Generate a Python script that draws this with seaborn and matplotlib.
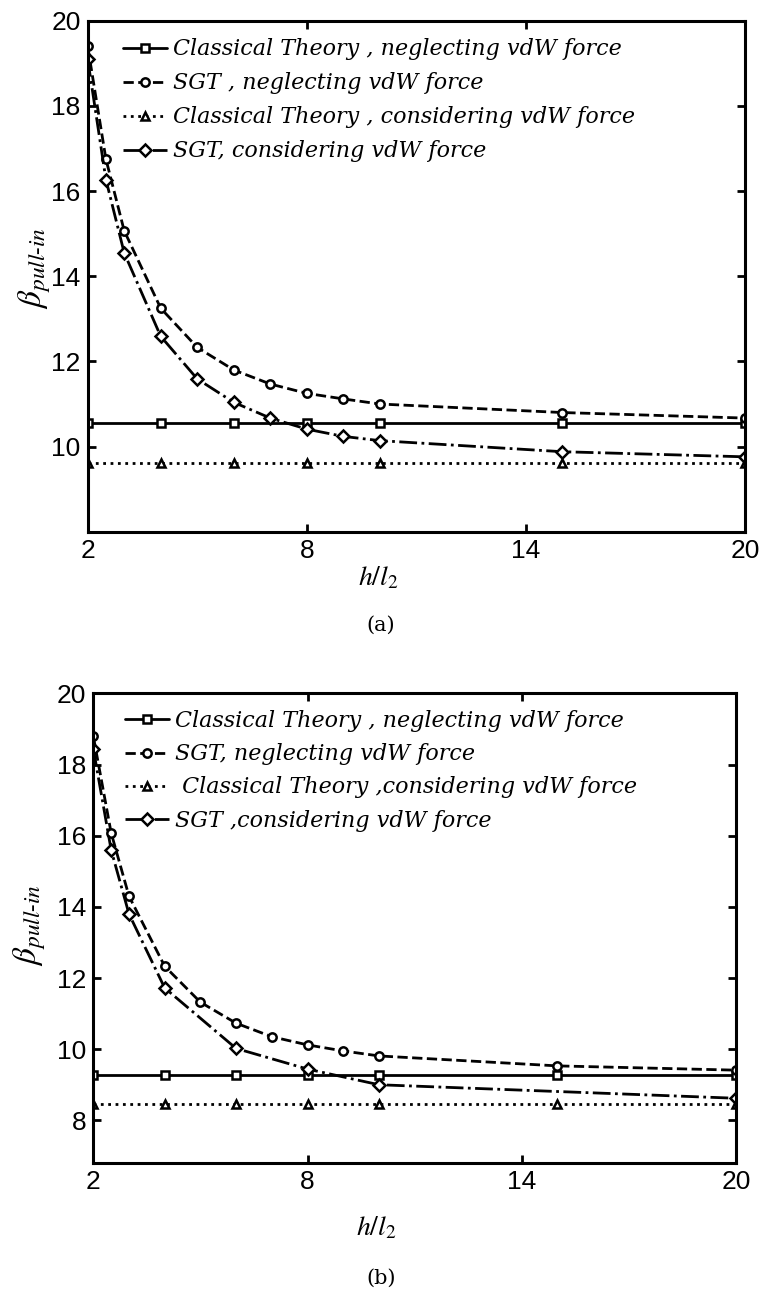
import numpy as np
import pandas as pd
import matplotlib
matplotlib.use("Agg")
import matplotlib.pyplot as plt
import seaborn as sns

sns.set_style("ticks")
plt.rcParams["font.family"] = ["Liberation Sans", "DejaVu Sans"]
plt.rcParams["mathtext.fontset"] = "stix"
plt.rcParams["axes.edgecolor"] = "black"
plt.rcParams["xtick.color"] = "black"
plt.rcParams["ytick.color"] = "black"
plt.rcParams["text.color"] = "black"

# ---- panel (a) data ----
x_classical = [2, 4, 6, 8, 10, 15, 20]
x_sgt_a = [2, 2.5, 3, 4, 5, 6, 7, 8, 9, 10, 15, 20]
classical_neg_a = [10.55, 10.55, 10.55, 10.55, 10.55, 10.55, 10.55]
classical_con_a = [9.62, 9.62, 9.62, 9.62, 9.62, 9.62, 9.62]
sgt_neg_a = [19.4, 16.75, 15.07, 13.25, 12.33, 11.80, 11.47, 11.25, 11.12, 11.00, 10.80, 10.67]
sgt_con_a = [19.1, 16.27, 14.55, 12.59, 11.59, 11.04, 10.67, 10.41, 10.24, 10.14, 9.88, 9.76]
labels_a = ["Classical Theory , neglecting vdW force",
            "SGT , neglecting vdW force",
            "Classical Theory , considering vdW force",
            "SGT, considering vdW force"]

# ---- panel (b) data ----
x_sgt_b = [2, 2.5, 3, 4, 5, 6, 7, 8, 9, 10, 15, 20]
x_sgt_con_b = [2, 2.5, 3, 4, 6, 8, 10, 15, 20]
classical_neg_b = [9.26, 9.26, 9.26, 9.26, 9.26, 9.26, 9.26]
classical_con_b = [8.45, 8.45, 8.45, 8.45, 8.45, 8.45, 8.45]
sgt_neg_b = [18.8, 16.08, 14.3, 12.33, 11.32, 10.73, 10.35, 10.12, 9.95, 9.81, 9.53, 9.41]
sgt_con_b = [18.45, 15.6, 13.8, 11.72, 10.02, 9.44, 9.0, 8.81, 8.62]
labels_b = ["Classical Theory , neglecting vdW force",
            "SGT, neglecting vdW force",
            " Classical Theory ,considering vdW force",
            "SGT ,considering vdW force"]

x_ticks = [2, 8, 14, 20]
y_ticks_a = [10, 12, 14, 16, 18, 20]
y_ticks_b = [8, 10, 12, 14, 16, 18, 20]

fig = plt.figure(figsize=(7.59, 12.97), dpi=100)
ax_a = fig.add_axes([0.1155, 0.590, 0.866, 0.394])
ax_b = fig.add_axes([0.1229, 0.1033, 0.8468, 0.3621])

common = dict(color="black", linewidth=2.0, markersize=6,
              markerfacecolor="white", markeredgecolor="black",
              markeredgewidth=1.8)


def draw(ax, series, labels, ylim, yticks, legend_anchor, spacing):
    styles = [("-", "s"), ("--", "o"), (":", "^"), ("-.", "D")]
    for (xs, ys, mev), (ls, mk), lab in zip(series, styles, labels):
        extra = {"markevery": mev} if mev is not None else {}
        sns.lineplot(x=xs, y=ys, ax=ax, linestyle=ls, marker=mk,
                     label=lab, sort=False, **common, **extra)
    ax.set_xlim(2, 20)
    ax.set_ylim(*ylim)
    ax.set_xticks(x_ticks)
    ax.set_yticks(yticks)
    ax.tick_params(direction="in", length=6, width=2, top=True, right=True,
                   labelsize=19, pad=5)
    for s in ax.spines.values():
        s.set_linewidth(2.2)
        s.set_color("black")
    ax.set_xlabel("")
    ax.set_ylabel("")
    leg = ax.legend(loc="upper left", bbox_to_anchor=legend_anchor,
                    frameon=False, handlelength=2.0, handletextpad=0.25,
                    labelspacing=spacing, borderaxespad=0,
                    prop={"family": "DejaVu Serif", "style": "italic", "size": 16})
    return leg


draw(ax_a,
     [(x_classical, classical_neg_a, None),
      (x_sgt_a, sgt_neg_a, None),
      (x_classical, classical_con_a, None),
      (x_sgt_a, sgt_con_a, None)],
     labels_a, (8, 20), y_ticks_a, (0.040, 0.983), 0.54)

draw(ax_b,
     [(x_classical, classical_neg_b, None),
      (x_sgt_b, sgt_neg_b, None),
      (x_classical, classical_con_b, None),
      (x_sgt_con_b, sgt_con_b, [0, 1, 2, 3, 4, 5, 6, 8])],
     labels_b, (6.8, 20), y_ticks_b, (0.035, 0.983), 0.50)

ylab = r"$\beta_{\mathit{pull‐in}}$"
fig.text(35 / 759, 1 - 268 / 1297, ylab, rotation=90, fontsize=24,
         ha="center", va="center")
fig.text(30 / 759, 1 - 925 / 1297, ylab, rotation=90, fontsize=24,
         ha="center", va="center")

fig.text(378 / 759, 1 - 578 / 1297, r"$h/l_2$", fontsize=20,
         ha="center", va="center")
fig.text(376 / 759, 1 - 1228 / 1297, r"$h/l_2$", fontsize=20,
         ha="center", va="center")

fig.text(381 / 759, 1 - 625 / 1297, "(a)", fontsize=15, family="DejaVu Serif",
         ha="center", va="center")
fig.text(381 / 759, 1 - 1278 / 1297, "(b)", fontsize=15, family="DejaVu Serif",
         ha="center", va="center")

fig.savefig("out.png", dpi=100)
